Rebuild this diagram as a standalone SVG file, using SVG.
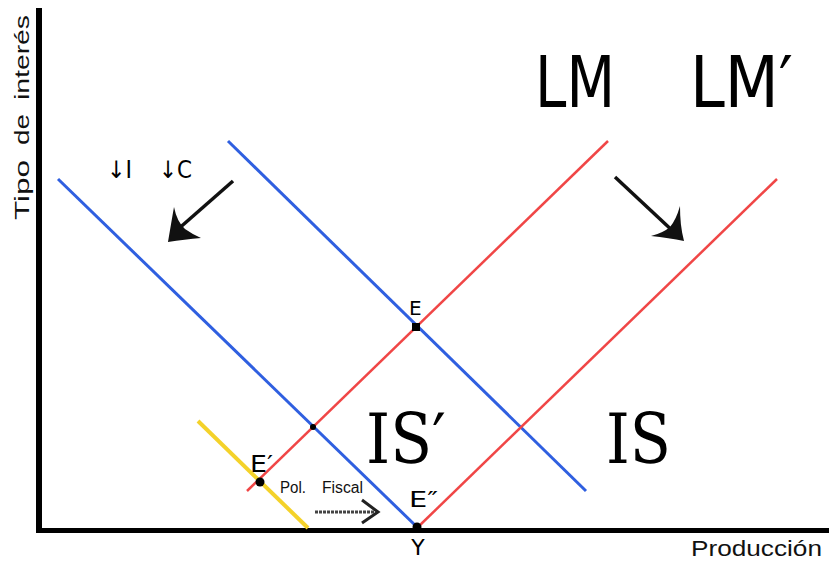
<svg xmlns="http://www.w3.org/2000/svg" width="829" height="562" viewBox="0 0 829 562">
<style>
.blue{stroke:#2f5fe0;stroke-width:3;fill:none}
.red{stroke:#f04646;stroke-width:2.5;fill:none}
.yel{stroke:#f4d22a;stroke-width:4;fill:none}
.ax{stroke:#000;fill:none}
.sans{font-family:"DejaVu Sans","Verdana",sans-serif;fill:#000}
.ser{font-family:"DejaVu Serif",serif;fill:#000}
.ar{font-family:"Liberation Sans",Arial,sans-serif;fill:#111}
.dot{fill:#000}
</style>
<rect width="829" height="562" fill="#fff"/>
<g id="axes">
<line class="ax" x1="39" y1="8" x2="39" y2="533" stroke-width="6"/>
<line class="ax" x1="36" y1="530.5" x2="829" y2="530.5" stroke-width="5"/>
<g transform="translate(29,220) rotate(-90)">
<text class="ar" x="0" y="0" font-size="21" textLength="60" lengthAdjust="spacingAndGlyphs">Tipo</text>
<text class="ar" x="75" y="0" font-size="21" textLength="31" lengthAdjust="spacingAndGlyphs">de</text>
<text class="ar" x="120" y="0" font-size="21" textLength="85" lengthAdjust="spacingAndGlyphs">interés</text>
</g>
<text class="ar" x="691" y="556" font-size="22" textLength="131" lengthAdjust="spacingAndGlyphs">Producción</text>
<text class="sans" x="418" y="555" font-size="22" text-anchor="middle">Y</text>
</g>
<g id="curves">
<line id="IS" class="blue" x1="228" y1="141" x2="586" y2="491"/>
<line id="ISp" class="blue" x1="58" y1="179" x2="417" y2="527"/>
<line id="LM" class="red" x1="247" y1="491" x2="608" y2="141"/>
<line id="LMp" class="red" x1="418" y1="527" x2="777" y2="179"/>
<line id="yellow" class="yel" x1="198" y1="421" x2="308" y2="528"/>
</g>
<g id="labels">
<text class="sans" x="535" y="107" font-size="71" textLength="80" lengthAdjust="spacingAndGlyphs">LM</text>
<text class="sans" x="690" y="107" font-size="71" textLength="103" lengthAdjust="spacingAndGlyphs">LM′</text>
<text class="ser" x="366" y="463" font-size="70" textLength="80" lengthAdjust="spacingAndGlyphs">IS′</text>
<text class="ser" x="606" y="463" font-size="70" textLength="65" lengthAdjust="spacingAndGlyphs">IS</text>
<text class="sans" x="107" y="178" font-size="24" textLength="25" lengthAdjust="spacingAndGlyphs">↓I</text>
<text class="sans" x="159" y="178" font-size="24" textLength="33" lengthAdjust="spacingAndGlyphs">↓C</text>
<text class="ar" x="280" y="493" font-size="16" textLength="26" lengthAdjust="spacingAndGlyphs">Pol.</text>
<text class="ar" x="322" y="493" font-size="16" textLength="41" lengthAdjust="spacingAndGlyphs">Fiscal</text>
</g>
<g id="E">
<rect class="dot" x="412" y="323" width="8" height="8"/>
<text class="sans" x="409" y="315" font-size="20">E</text>
</g>
<g id="Ep">
<circle class="dot" cx="260" cy="482" r="4.5"/>
<text class="sans" x="250" y="472" font-size="23" textLength="23" lengthAdjust="spacingAndGlyphs">E′</text>
</g>
<g id="Epp">
<circle class="dot" cx="417" cy="527" r="4.5"/>
<text class="sans" x="409" y="507" font-size="22" textLength="29" lengthAdjust="spacingAndGlyphs">E″</text>
</g>
<g id="X">
<circle class="dot" cx="313" cy="427" r="3"/>
</g>
<g id="arrows">
<line x1="233" y1="181" x2="176" y2="231" stroke="#111" stroke-width="3.5"/>
<path d="M168,242 C170,230 172,218 174,207 Q177,222 185,229 Q192,234 201,238 C190,239 179,240 168,242 Z" fill="#111"/>
<line x1="615" y1="177" x2="676" y2="234" stroke="#111" stroke-width="3.5"/>
<path d="M684,241 C681,230 680,218 680,206 Q676,220 670,227 Q663,233 651,236 C663,237 674,239 684,241 Z" fill="#111"/>
<line x1="315" y1="512" x2="374" y2="512" stroke="#444" stroke-width="3" stroke-dasharray="3 1"/>
<path d="M362,500 L378,512 L362,523" fill="none" stroke="#222" stroke-width="3"/>
</g>
</svg>
